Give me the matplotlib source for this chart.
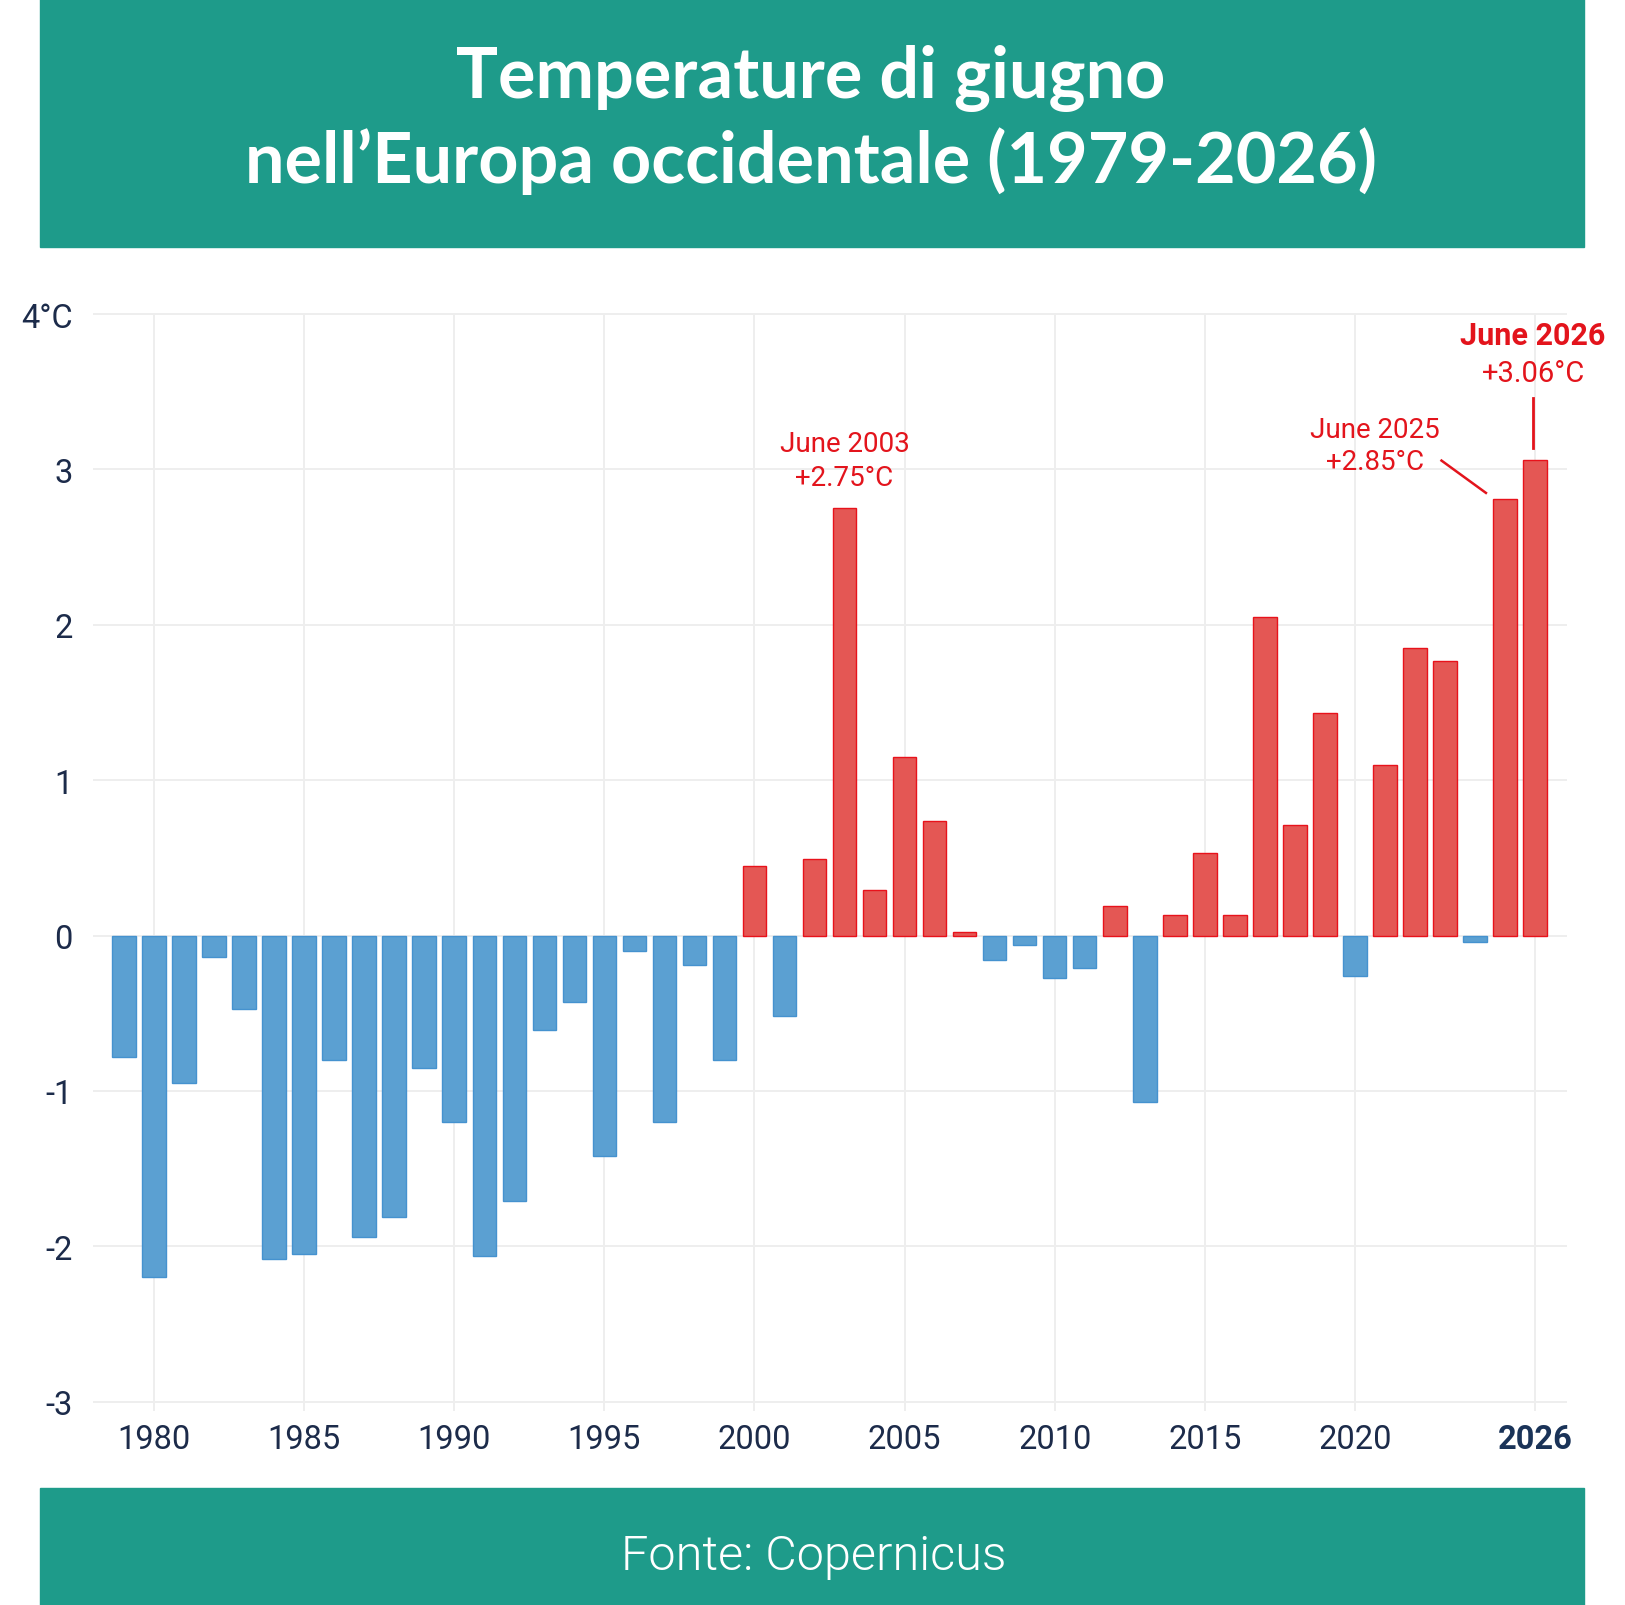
import matplotlib
matplotlib.use("Agg")
import matplotlib.pyplot as plt
from matplotlib.patches import Rectangle

years = list(range(1979, 2027))
anomalies = [-0.78, -2.20, -0.95, -0.14, -0.47, -2.08, -2.05, -0.80, -1.94, -1.81,
             -0.85, -1.20, -2.06, -1.71, -0.61, -0.43, -1.42, -0.10, -1.20, -0.19,
             -0.80, 0.45, -0.52, 0.49, 2.75, 0.29, 1.15, 0.74, 0.02, -0.16,
             -0.06, -0.27, -0.21, 0.19, -1.07, 0.13, 0.53, 0.13, 2.05, 0.71,
             1.43, -0.26, 1.10, 1.85, 1.77, -0.04, 2.81, 3.06]

x_ticks = [1980, 1985, 1990, 1995, 2000, 2005, 2010, 2015, 2020, 2026]
y_ticks = [-3, -2, -1, 0, 1, 2, 3, 4]
y_labels = ["-3", "-2", "-1", "0", "1", "2", "3", "4°C"]

title_lines = ["Temperature di giugno", "nell’Europa occidentale (1979-2026)"]
source = "Fonte: Copernicus"

teal = "#1e9b8a"
red = "#e3141c"
navy = "#1c2b4a"

fig = plt.figure(figsize=(16.25, 16.06), dpi=100)
fig.patch.set_facecolor("white")

# banners
fig.patches.append(Rectangle((0.0246, 0.8456), 0.9502, 0.1544, transform=fig.transFigure,
                             color=teal, zorder=0))
fig.patches.append(Rectangle((0.0246, 0.0), 0.9502, 0.0729, transform=fig.transFigure,
                             color=teal, zorder=0))

fig.text(0.499, 0.9388, title_lines[0], ha="center", va="baseline", color="white",
         fontsize=50.5, fontweight="bold", family=["Lato", "DejaVu Sans"])
fig.text(0.499, 0.8862, title_lines[1], ha="center", va="baseline", color="white",
         fontsize=50.5, fontweight="bold", family=["Lato", "DejaVu Sans"])
fig.text(0.501, 0.0227, source, ha="center", va="baseline", color="white",
         fontsize=35, fontweight=300, family=["Roboto", "DejaVu Sans"])

ax = fig.add_axes([0.0574, 0.1210, 0.9071, 0.6833])

fills = ["#e45754" if v > 0 else "#5ba0d2" for v in anomalies]
edges = ["#e8121b" if v > 0 else "#4592cf" for v in anomalies]
ax.bar(years, anomalies, width=0.78, color=fills, edgecolor=edges, linewidth=1.0, zorder=2)

ax.set_xlim(1977.98, 2027.07)
ax.set_ylim(-3.058, 4.005)
ax.set_xticks(x_ticks)
ax.set_xticklabels([str(t) for t in x_ticks])
ax.set_yticks(y_ticks)
ax.set_yticklabels(y_labels)
ax.grid(True, color="#eeeeee", linewidth=1.4, zorder=0)
ax.set_axisbelow(True)
for s in ax.spines.values():
    s.set_visible(False)
ax.tick_params(axis="both", length=0, labelsize=23.5, labelcolor=navy)
ax.tick_params(axis="y", pad=15)
ax.tick_params(axis="x", pad=9)
for lab in ax.get_xticklabels() + ax.get_yticklabels():
    lab.set_family(["Roboto", "DejaVu Sans"])
ax.get_xticklabels()[-1].set_fontweight("bold")
ax.get_xticklabels()[-1].set_color("#1a3358")

# annotations
v2003 = anomalies[years.index(2003)]
ax.text(2003, v2003 + 0.37, "June 2003", ha="center", va="baseline", color=red,
        fontsize=20, family="Roboto")
ax.text(2003, v2003 + 0.15, "+2.75°C", ha="center", va="baseline", color=red,
        fontsize=20, family="Roboto")

ax.text(2020.66, 3.21, "June 2025", ha="center", va="baseline", color=red,
        fontsize=20, family="Roboto")
ax.text(2020.66, 3.00, "+2.85°C", ha="center", va="baseline", color=red,
        fontsize=20, family="Roboto")
ax.plot([2022.88, 2024.36], [3.057, 2.849], color=red, linewidth=1.8, zorder=3)

v2026 = anomalies[years.index(2026)]
ax.text(2025.93, v2026 + 0.75, "June 2026", ha="center", va="baseline", color=red,
        fontsize=22, fontweight="bold", family="Roboto", clip_on=False)
ax.text(2025.93, v2026 + 0.51, "+3.06°C", ha="center", va="baseline", color=red,
        fontsize=21, family="Roboto", clip_on=False)
ax.plot([2025.93, 2025.93], [v2026 + 0.08, v2026 + 0.40], color=red, linewidth=2.0, zorder=3)

fig.savefig("out.png", dpi=100, facecolor="white")
